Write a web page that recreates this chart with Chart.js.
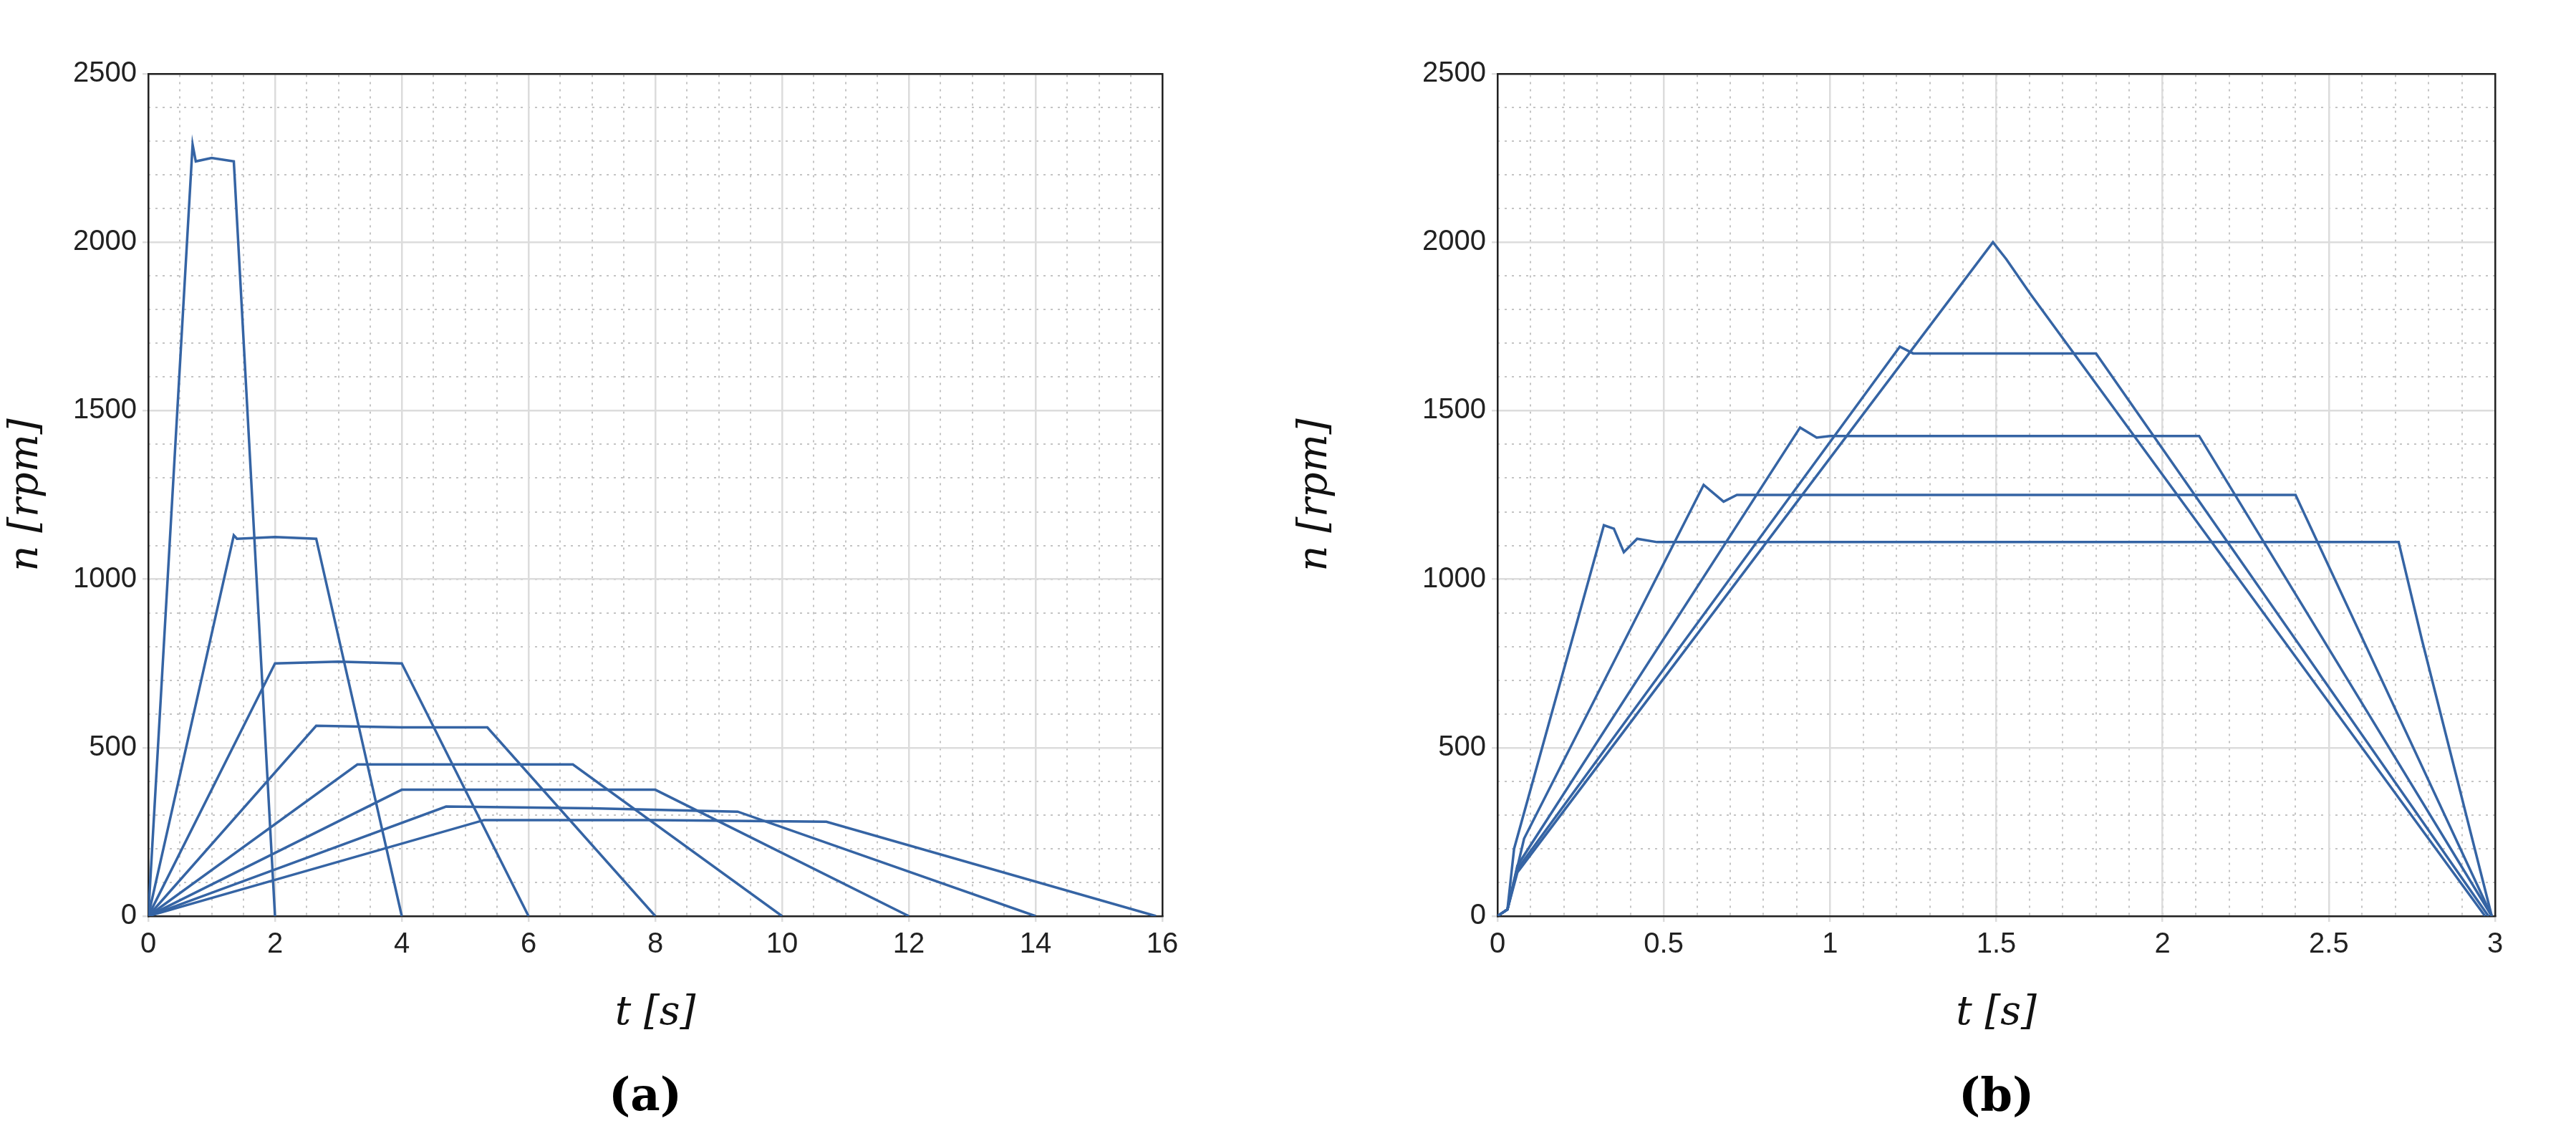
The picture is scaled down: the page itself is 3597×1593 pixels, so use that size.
<!DOCTYPE html>
<html>
<head>
<meta charset="utf-8">
<script src="https://cdn.jsdelivr.net/npm/chart.js@4/dist/chart.umd.min.js"></script>
<style>
  body { margin: 0; background: #fff; width: 3597px; height: 1593px; position: relative; overflow: hidden; }
  .box { position: absolute; top: 0; height: 1593px; }
  .cap { position: absolute; top: 1490px; font: bold 64px "DejaVu Serif", serif; }
</style>
</head>
<body>
<div class="box" style="left:0; width:1700px"><canvas id="chartA"></canvas></div>
<div class="box" style="left:1800px; width:1797px"><canvas id="chartB"></canvas></div>
<div class="cap" style="left:850px">(a)</div>
<div class="cap" style="left:2735px">(b)</div>
<script>
// Panel (a): speed profiles, vertices [t, n]
const runsA = [
  [[0,0],[0.7,2290],[0.75,2240],[1.0,2250],[1.35,2240],[2.0,0]],
  [[0,0],[1.35,1130],[1.4,1120],[2.0,1125],[2.65,1120],[4.0,0]],
  [[0,0],[2.0,750],[3.0,755],[4.0,750],[6.0,0]],
  [[0,0],[2.65,565],[4.0,560],[5.35,560],[8.0,0]],
  [[0,0],[3.3,450],[5.0,450],[6.7,450],[10.0,0]],
  [[0,0],[4.0,375],[6.0,375],[8.0,375],[12.0,0]],
  [[0,0],[4.7,325],[7.0,320],[9.3,310],[14.0,0]],
  [[0,0],[5.3,285],[8.0,285],[10.7,280],[15.9,0]]
];
// Panel (b): speed profiles, vertices [t, n]
const runsB = [
  [[0,0],[0.03,20],[0.05,200],[0.32,1160],[0.35,1150],[0.38,1080],[0.42,1120],[0.48,1110],[2.71,1110],[2.78,820],[2.99,0]],
  [[0,0],[0.03,20],[0.08,230],[0.62,1280],[0.68,1230],[0.72,1250],[2.40,1250],[2.99,0]],
  [[0,0],[0.03,20],[0.06,150],[0.91,1450],[0.96,1420],[1.0,1425],[2.11,1425],[2.99,0]],
  [[0,0],[0.03,20],[0.06,140],[1.21,1690],[1.25,1670],[1.80,1670],[2.98,0]],
  [[0,0],[0.03,20],[0.06,130],[1.49,2000],[1.53,1950],[1.6,1850],[2.97,0]]
];
const yTicksMajor = [0, 500, 1000, 1500, 2000, 2500];

const LINE = '#3564a4';
const TICK_FONT = { family: 'Liberation Sans, Arial, sans-serif', size: 40 };
const TITLE_FONT = { family: 'DejaVu Serif, serif', size: 56, style: 'italic' };

function makeChart(canvas, runs, xMax, xMajor, xMinor, leftW, padRight, xTitle) {
  const datasets = runs.map(run => ({
    data: run.map(([x, y]) => ({ x, y })),
    borderColor: LINE,
    borderWidth: 3.5,
    pointRadius: 0,
    fill: false,
    tension: 0
  }));
  const dotted = { color: '#c4c4c4', lineWidth: 2 };
  return new Chart(canvas, {
    type: 'line',
    data: { datasets },
    options: {
      responsive: true,
      maintainAspectRatio: false,
      animation: false,
      layout: { padding: { top: 103, right: padRight, left: 0, bottom: 140 } },
      plugins: { legend: { display: false }, tooltip: { enabled: false } },
      scales: {
        xMin: {
          type: 'linear', position: 'top', min: 0, max: xMax,
          ticks: { display: false, stepSize: xMinor },
          grid: { ...dotted, drawTicks: false },
          border: { display: true, color: '#222', width: 2.5, dash: [3, 7] },
          afterFit: s => { s.height = 0; }
        },
        yMin: {
          type: 'linear', position: 'right', min: 0, max: 2500,
          ticks: { display: false, stepSize: 100 },
          grid: { ...dotted, drawTicks: false },
          border: { display: true, color: '#222', width: 2.5, dash: [3, 7] },
          afterFit: s => { s.width = 0; }
        },
        x: {
          type: 'linear', position: 'bottom', min: 0, max: xMax,
          ticks: { stepSize: xMajor, font: TICK_FONT, color: '#222', padding: 8, callback: v => String(v) },
          grid: { color: '#dcdcdc', lineWidth: 2.5, tickLength: 8 },
          border: { color: '#222', width: 2.5 },
          title: { display: true, text: xTitle, font: TITLE_FONT, color: '#111', padding: { top: 4 } },
          afterFit: s => { s.height = 174; }
        },
        y: {
          type: 'linear', position: 'left', min: 0, max: 2500,
          afterBuildTicks: s => { s.ticks = yTicksMajor.map(v => ({ value: v })); },
          ticks: { font: TICK_FONT, color: '#222', padding: 8, callback: v => String(v) },
          grid: { color: '#dcdcdc', lineWidth: 2.5, tickLength: 8 },
          border: { color: '#222', width: 2.5 },
          title: { display: true, text: 'n [rpm]', font: TITLE_FONT, color: '#111' },
          afterFit: s => { s.width = leftW; }
        }
      }
    }
  });
}

makeChart(document.getElementById('chartA'), runsA, 16, 2, 0.5, 207, 77, 't [s]');
makeChart(document.getElementById('chartB'), runsB, 3, 0.5, 0.1, 291, 113, 't [s]');
</script>
</body>
</html>
